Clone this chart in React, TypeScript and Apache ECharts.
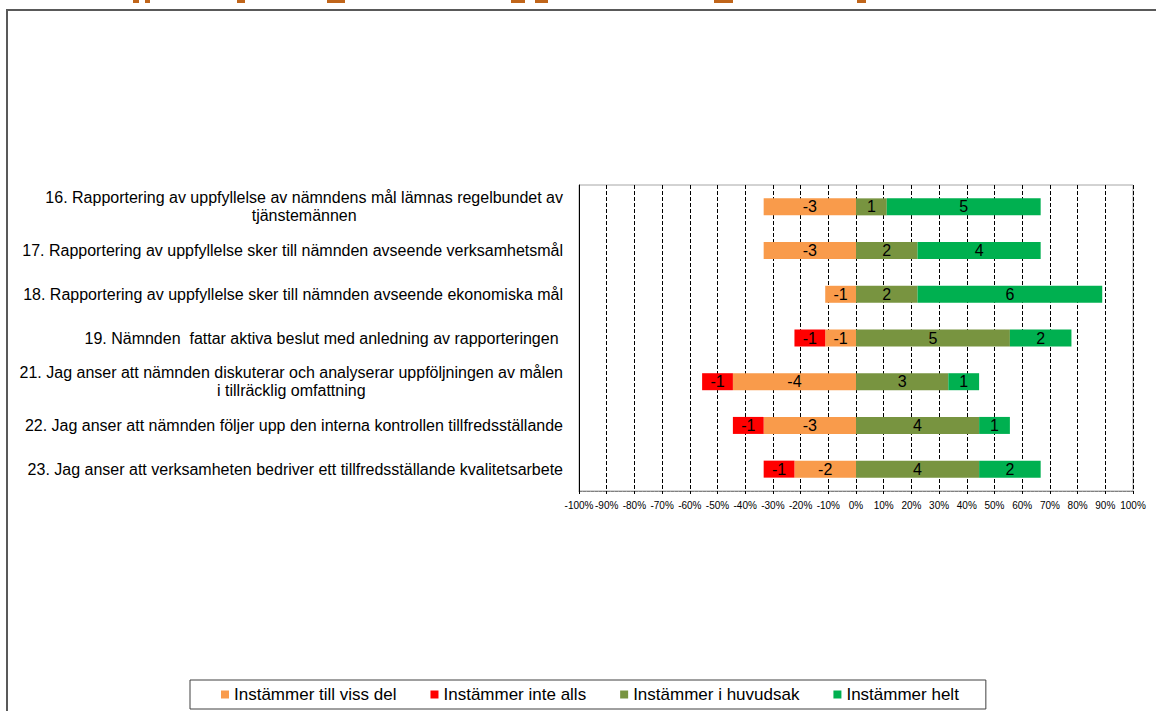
import React, { useEffect, useRef } from "react";
import * as echarts from "echarts";

const categories = [
  "16. Rapportering av uppfyllelse av nämndens mål lämnas regelbundet av\ntjänstemännen",
  "17. Rapportering av uppfyllelse sker till nämnden avseende verksamhetsmål",
  "18. Rapportering av uppfyllelse sker till nämnden avseende ekonomiska mål",
  "19. Nämnden  fattar aktiva beslut med anledning av rapporteringen ",
  "21. Jag anser att nämnden diskuterar och analyserar uppföljningen av målen\ni tillräcklig omfattning",
  "22. Jag anser att nämnden följer upp den interna kontrollen tillfredsställande",
  "23. Jag anser att verksamheten bedriver ett tillfredsställande kvalitetsarbete",
];

const seriesNames = [
  "Instämmer till viss del",
  "Instämmer inte alls",
  "Instämmer i huvudsak",
  "Instämmer helt",
];

// counts of answers (negative = disagreeing side)
const tillVissDel = [-3, -3, -1, -1, -4, -3, -2];
const inteAlls = [null, null, null, -1, -1, -1, -1];
const iHuvudsak = [1, 2, 2, 5, 3, 4, 4];
const helt = [5, 4, 6, 2, 1, 1, 2];

const xTicks = { min: -100, max: 100, interval: 10 };

const colors = ["#F99B4B", "#FF0000", "#789440", "#00B050"];
const FONT = "'Liberation Sans', Arial, sans-serif";

export default function App() {
  const ref = useRef<HTMLDivElement>(null);

  useEffect(() => {
    if (!ref.current) return;
    const chart = echarts.init(ref.current, undefined, { renderer: "svg" });
    const all = [tillVissDel, inteAlls, iHuvudsak, helt];
    const totals = categories.map((_, i) =>
      all.reduce((s, arr) => s + Math.abs((arr[i] as number) || 0), 0)
    );
    const toPct = (arr: (number | null)[]) =>
      arr.map((v, i) => (v == null ? null : (v / totals[i]) * 100));

    const series = all.map((arr, k) => ({
      name: seriesNames[k],
      type: "bar",
      stack: "total",
      barWidth: 17,
      itemStyle: { color: colors[k] },
      data: toPct(arr as (number | null)[]),
      label: {
        show: true,
        position: "inside",
        color: "#000",
        fontSize: 16,
        fontFamily: FONT,
        formatter: (p: any) => String((arr as any)[p.dataIndex]),
      },
    }));

    const descenders = [
      [133, 6], [145, 5], [237, 8], [327, 18], [511, 14], [535, 13], [714, 19], [857, 9],
    ];

    chart.setOption({
      animation: false,
      backgroundColor: "#fff",
      grid: {
        left: 579,
        right: 23,
        top: 185,
        bottom: 220,
        show: true,
        borderColor: "#a6a6a6",
        borderWidth: 1,
        containLabel: false,
      },
      legend: {
        left: 190,
        top: 680,
        orient: "horizontal",
        data: seriesNames,
        icon: "rect",
        itemWidth: 8,
        itemHeight: 8,
        itemGap: 34,
        padding: [6, 27, 6, 31],
        borderColor: "#404040",
        borderWidth: 1,
        textStyle: { fontSize: 17, fontFamily: FONT, color: "#000" },
      },
      xAxis: {
        type: "value",
        min: xTicks.min,
        max: xTicks.max,
        interval: xTicks.interval,
        axisLine: { show: true, lineStyle: { color: "#808080", type: [3, 1] } },
        axisTick: { show: true, length: 3, lineStyle: { color: "#000" } },
        axisLabel: {
          formatter: (v: number) => `${v}%`,
          fontSize: 10,
          fontFamily: FONT,
          color: "#000",
          margin: 9,
        },
        splitLine: { show: true, lineStyle: { color: "#000", type: [4, 2], width: 1 } },
      },
      yAxis: {
        type: "category",
        data: categories,
        inverse: true,
        axisLine: { show: true, onZero: false, lineStyle: { color: "#000", width: 1 } },
        axisTick: { show: false },
        axisLabel: {
          margin: 16,
          formatter: (v: string) => `{c|${v}}`,
          rich: {
            c: { align: "center", fontSize: 16, fontFamily: FONT, color: "#000", lineHeight: 18 },
          },
        },
      },
      series,
      graphic: [
        {
          type: "polyline",
          silent: true,
          shape: { points: [[7, 711], [7, 10], [1156, 10]] },
          style: { stroke: "#595959", lineWidth: 2, fill: "none" },
        },
        ...descenders.map(([x, w]) => ({
          type: "rect",
          silent: true,
          shape: { x, y: 0, width: w, height: 3 },
          style: { fill: "#C0651A" },
        })),
      ],
    });
    return () => chart.dispose();
  }, []);

  return (
    <div
      ref={ref}
      style={{ position: "fixed", left: 0, top: 0, width: 1156, height: 711, background: "#fff" }}
    />
  );
}
